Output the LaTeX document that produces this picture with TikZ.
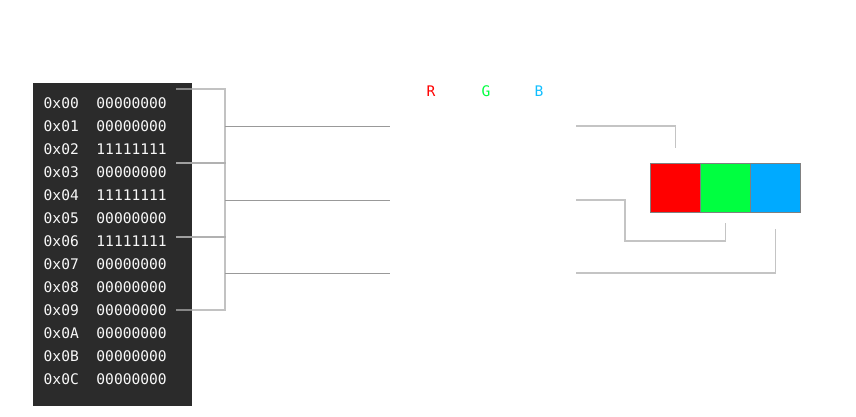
\documentclass[tikz,border=0pt]{standalone}
\usepackage{fontspec}
\usetikzlibrary{calc}
\newfontfamily\memfont{DejaVu Sans Mono}
\definecolor{panelc}{HTML}{2B2B2B}
\definecolor{memtxt}{HTML}{F8F8F8}
\definecolor{brkc}{HTML}{AAAAAA}
\definecolor{leadc}{HTML}{999999}
\definecolor{rleadc}{HTML}{C4C4C4}
\definecolor{boxr}{HTML}{FF0000}
\definecolor{boxg}{HTML}{00FF40}
\definecolor{boxb}{HTML}{00AAFF}
\definecolor{labb}{HTML}{10BEFF}
\begin{document}
\begin{tikzpicture}[x=1pt,y=-1pt,
  memtext/.style={font=\memfont\fontsize{14.6}{16}\selectfont, text=memtxt, inner sep=0pt, anchor=base west},
  lab/.style={font=\memfont\fontsize{14.6}{16}\selectfont, inner sep=0pt},
  brk/.style={draw=brkc, opacity=0.72, line width=1.5pt},
  lead/.style={draw=leadc, line width=1pt},
  rlead/.style={draw=rleadc, line width=1.5pt},
  colbox/.style={draw=gray, line width=1pt, minimum width=50pt, minimum height=49pt, inner sep=0pt, anchor=north west}]
\useasboundingbox (0,0) rectangle (856,416);
\node[fill=panelc, minimum width=159pt, minimum height=323pt, inner sep=0pt, anchor=north west] (panel) at (33,83) {};
\foreach \a/\d [count=\i from 0] in {00/00000000,01/00000000,02/11111111,03/00000000,04/11111111,05/00000000,06/11111111,07/00000000,08/00000000,09/00000000,0A/00000000,0B/00000000,0C/00000000}
  \node[memtext] (row\i) at (43.5,108.3+23*\i) {0x\a~~\d};
% brackets
\coordinate (t0) at (176,89);
\coordinate (t1) at (176,163);
\coordinate (t2) at (176,237);
\coordinate (t3) at (176,310);
\draw[brk] (t0) -| (225,163) -- (t1);
\draw[brk] (t1) -| (225,237) -- (t2);
\draw[brk] (t2) -| (225,310) -- (t3);
% leads to the middle
\coordinate (m0) at (225,126);
\coordinate (m1) at (225,200);
\coordinate (m2) at (225,273);
\coordinate (e0) at (390,126);
\coordinate (e1) at (390,200);
\coordinate (e2) at (390,273);
\draw[lead] (m0) -- (e0);
\draw[lead] (m1) -- (e1);
\draw[lead] (m2) -- (e2);
% labels
\node[lab, text=boxr] (labR) at (431,91) {R};
\node[lab, text=boxg] (labG) at (486,91) {G};
\node[lab, text=labb] (labB) at (539,91) {B};
% colour boxes
\node[colbox, fill=boxr] (rbox) at (650,163) {};
\node[colbox, fill=boxg] (gbox) at (700,163) {};
\node[colbox, fill=boxb] (bbox) at (750,163) {};
% right leads
\coordinate (s0) at (576,126);
\coordinate (s1) at (576,200);
\coordinate (s2) at (576,273);
\draw[rlead] (s0) -| ($(rbox.north)+(0,-15)$);
\draw[rlead] (s1) -| (625,241) -| ($(gbox.south)+(0,10)$);
\draw[rlead] (s2) -| ($(bbox.south)+(0,16)$);
\end{tikzpicture}
\end{document}
